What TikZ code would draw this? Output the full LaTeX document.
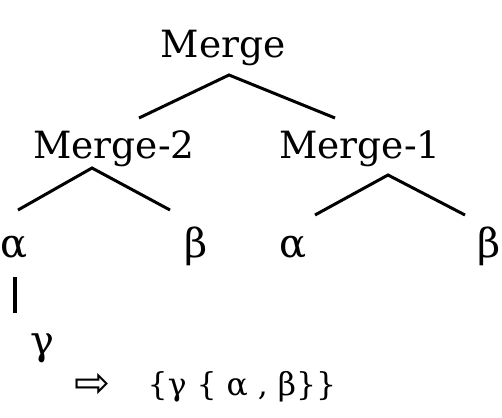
\documentclass[tikz,border=0pt]{standalone}
\usepackage{fontspec}
\setmainfont{DejaVu Serif}
\newfontfamily\symfont{DejaVu Sans}
\begin{document}
\begin{tikzpicture}[x=1pt,y=-1pt,
  lbl/.style={inner sep=0pt,anchor=base,font=\fontsize{37.5}{40}\selectfont},
  grk/.style={inner sep=0pt,anchor=base,font=\fontsize{40}{44}\selectfont},
  branch/.style={line width=3pt}]
\useasboundingbox (0,0) rectangle (502,417);
\node[lbl] (m) at (223,58) {Merge};
\node[lbl] (m2) at (114,158) {Merge-2};
\node[lbl] (m1) at (360,158) {Merge-1};
\node[grk] (a1) at (14,257) {α};
\node[grk] (b1) at (196,257) {β};
\node[grk] (a2) at (293,257) {α};
\node[grk] (b2) at (489,257) {β};
\node[grk] (g) at (42,354) {γ};
\node[inner sep=0pt,font=\symfont\fontsize{43}{46}\selectfont] (arr) at (93,385) {⇨};
\node[inner sep=0pt,anchor=base,font=\fontsize{31.5}{34}\selectfont] (res) at (242,395) {\{γ \{ α , β\}\}};
\coordinate (mA) at (229,75);
\coordinate (mL) at (139,118);
\coordinate (mR) at (335,118);
\coordinate (m2A) at (92,168);
\coordinate (m2L) at (18,210);
\coordinate (m2R) at (170,210);
\coordinate (m1A) at (388,175);
\coordinate (m1L) at (315,215);
\coordinate (m1R) at (465,215);
\coordinate (vT) at (15,277);
\coordinate (vB) at (15,313);
\draw[branch] (mL) -- (mA) -- (mR);
\draw[branch] (m2L) -- (m2A) -- (m2R);
\draw[branch] (m1L) -- (m1A) -- (m1R);
\draw[line width=4.5pt] (vT) -- (vB);
\end{tikzpicture}
\end{document}
